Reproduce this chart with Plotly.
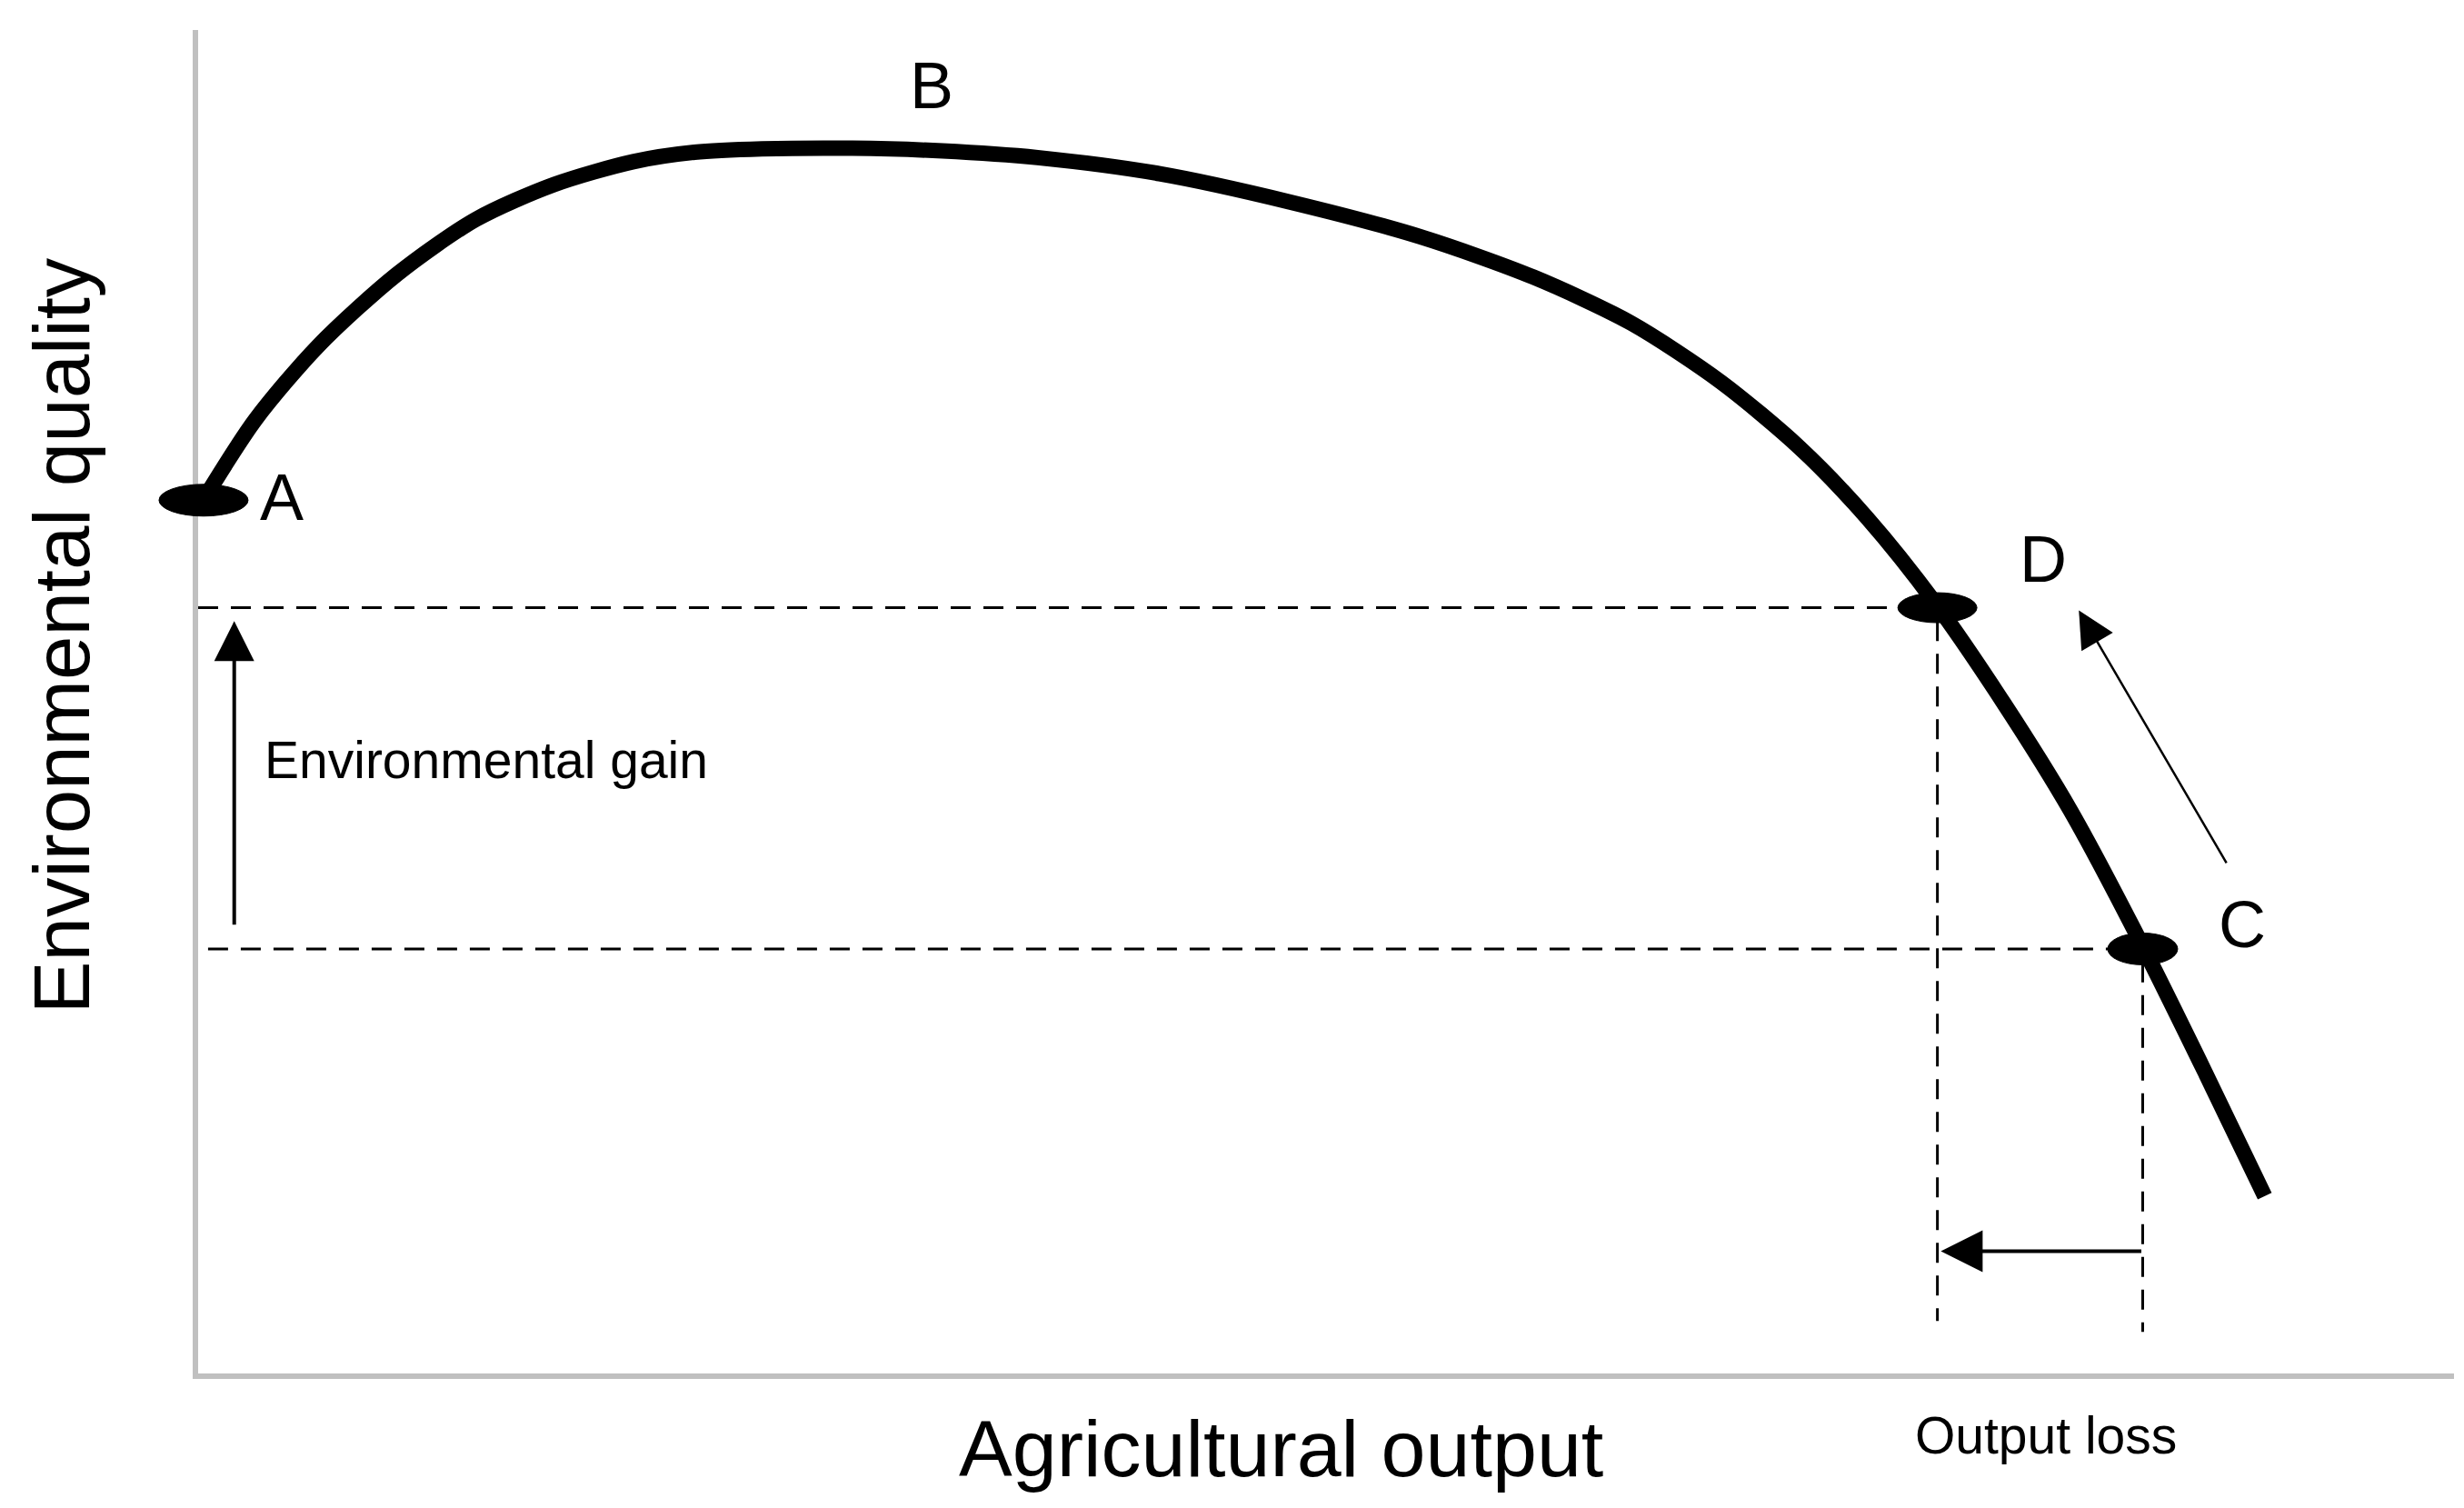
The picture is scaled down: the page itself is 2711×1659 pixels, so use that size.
import plotly.graph_objects as go

# Frontier curve (agricultural output vs environmental quality), arbitrary 0-100 units
curve_x = [0.3, 2.54, 5.33, 8.8, 12.31, 15.78, 19.29, 22.0, 25.0, 29.0, 33.0, 37.21,
           42.62, 48.39, 54.2, 59.2, 63.5, 67.5, 71.0, 74.0, 77.0, 80.0, 83.0,
           86.2, 89.0, 91.61]
curve_y = [65.2, 71.0, 76.5, 81.8, 85.9, 88.5, 90.2, 90.9, 91.15, 91.2, 91.0, 90.5,
           89.3, 87.2, 84.6, 81.6, 78.2, 73.8, 68.9, 63.65, 57.35, 50.0, 41.9,
           31.8, 22.3, 13.2]

# Marked points on the curve
point_names = ["A", "D", "C"]
point_x = [0.24, 77.1, 86.2]
point_y = [65.0, 57.0, 31.6]

# Point letter labels
label_text = ["A", "B", "C", "D"]
label_x = [3.7, 32.5, 90.6, 81.8]
label_y = [65.2, 95.9, 33.4, 60.6]

# Movement from C to D (arrow parallel to curve)
move_tail = (89.95, 37.9)
move_tip = (83.37, 56.8)

X_RANGE = [0, 100]
Y_RANGE = [0, 100]


def px(v):
    return (v - X_RANGE[0]) / (X_RANGE[1] - X_RANGE[0])


def py(v):
    return (v - Y_RANGE[0]) / (Y_RANGE[1] - Y_RANGE[0])


FONT = "Liberation Sans, Arial, sans-serif"
W, H = 2711, 1659
fig = go.Figure()

# Guide (dashed) lines from D and C
dashed = dict(color="black", width=3, dash="22px,14px")
guide_start_x = {"D": 0.0, "C": 0.44}
guide_end_y = {"D": 3.9, "C": 3.1}
for name in ["D", "C"]:
    i = point_names.index(name)
    fig.add_trace(go.Scatter(x=[guide_start_x[name], point_x[i]], y=[point_y[i], point_y[i]],
                             mode="lines", line=dashed, hoverinfo="skip", showlegend=False))
    fig.add_trace(go.Scatter(x=[point_x[i], point_x[i]], y=[point_y[i] - 1.0, guide_end_y[name]],
                             mode="lines", line=dashed, hoverinfo="skip", showlegend=False))

# Main frontier curve
fig.add_trace(go.Scatter(x=curve_x, y=curve_y, mode="lines",
                         line=dict(color="black", width=17, shape="spline", smoothing=0.8),
                         hoverinfo="skip", showlegend=False))

# Ellipse markers at A, D, C (paper-referenced so they are not clipped at the axis)
ell_size = {"A": (98, 35), "D": (87, 33), "C": (77, 35)}
for name, xv, yv in zip(point_names, point_x, point_y):
    w, h = ell_size[name]
    fig.add_shape(type="circle", xref="paper", yref="paper", xsizemode="pixel", ysizemode="pixel",
                  xanchor=px(xv), yanchor=py(yv), x0=-w / 2, x1=w / 2, y0=-h / 2, y1=h / 2,
                  fillcolor="black", line=dict(color="black", width=1))

# Letter labels
for t, lx, ly in zip(label_text, label_x, label_y):
    fig.add_annotation(x=lx, y=ly, text=t, showarrow=False,
                       font=dict(family=FONT, size=72, color="black"),
                       xanchor="center", yanchor="middle")

iD, iC = point_names.index("D"), point_names.index("C")

# Environmental gain arrow (from C level up to D level)
fig.add_annotation(x=1.6, y=point_y[iD] - 1.0, ax=1.6, ay=point_y[iC] + 1.7,
                   xref="x", yref="y", axref="x", ayref="y", text="", showarrow=True,
                   arrowhead=2, arrowwidth=4, arrowsize=2.2, arrowcolor="black")
fig.add_annotation(x=2.85, y=45.7, text="Environmental gain", showarrow=False,
                   font=dict(family=FONT, size=57, color="black"),
                   xanchor="left", yanchor="middle")

# Output loss arrow (from C output back to D output)
fig.add_annotation(x=point_x[iD] + 0.15, y=9.1, ax=point_x[iC], ay=9.1,
                   xref="x", yref="y", axref="x", ayref="y", text="", showarrow=True,
                   arrowhead=2, arrowwidth=4, arrowsize=2.3, arrowcolor="black")
fig.add_annotation(x=0.819, y=-0.046, xref="paper", yref="paper", text="Output loss",
                   showarrow=False, font=dict(family=FONT, size=57, color="black"),
                   xanchor="center", yanchor="middle")

# C -> D movement arrow
fig.add_annotation(x=move_tip[0], y=move_tip[1], ax=move_tail[0], ay=move_tail[1],
                   xref="x", yref="y", axref="x", ayref="y", text="", showarrow=True,
                   arrowhead=2, arrowwidth=2.5, arrowsize=3.2, arrowcolor="black")

# Axis titles
fig.add_annotation(x=0.480, y=-0.056, xref="paper", yref="paper", text="Agricultural output",
                   showarrow=False, font=dict(family=FONT, size=88, color="black"),
                   xanchor="center", yanchor="middle")
fig.add_annotation(x=-0.0605, y=0.549, xref="paper", yref="paper", text="Environmental quality",
                   showarrow=False, textangle=-90, font=dict(family=FONT, size=87, color="black"),
                   xanchor="center", yanchor="middle")

axis_common = dict(showline=True, linecolor="#c0c0c0", linewidth=6, showgrid=False,
                   zeroline=False, showticklabels=False, ticks="", fixedrange=True)
fig.update_layout(
    width=W, height=H,
    margin=dict(l=210, r=19, t=25, b=156),
    paper_bgcolor="white", plot_bgcolor="white",
    xaxis=dict(range=X_RANGE, **axis_common),
    yaxis=dict(range=Y_RANGE, **axis_common),
    showlegend=False,
)

fig.write_html("out.html")
